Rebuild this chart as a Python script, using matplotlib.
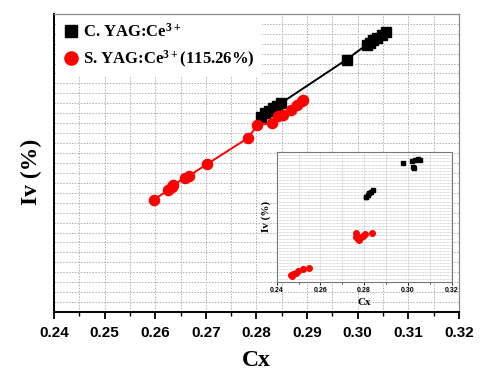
import matplotlib
matplotlib.use("Agg")
import matplotlib.pyplot as plt
from matplotlib.ticker import MultipleLocator

plt.rcParams["mathtext.fontset"] = "custom"
plt.rcParams["mathtext.rm"] = "Liberation Serif:bold"
plt.rcParams["mathtext.default"] = "rm"

# main panel data (Cx, Iv in arbitrary grid units)
c_cx = [0.2810, 0.2817, 0.2824, 0.2832, 0.2840, 0.2848, 0.2978,
        0.3018, 0.3025, 0.3031, 0.3038, 0.3048, 0.3057]
c_iv = [19.6, 20.0, 20.2, 20.5, 20.7, 21.0, 25.4,
        26.9, 27.1, 27.4, 27.6, 27.9, 28.2]
s_cx = [0.2598, 0.2626, 0.2633, 0.2636, 0.2659, 0.2667, 0.2703, 0.2783,
        0.2802, 0.2830, 0.2843, 0.2852, 0.2868, 0.2880, 0.2890, 0.2893]
s_iv = [11.3, 12.3, 12.6, 12.8, 13.5, 13.7, 14.9, 17.5,
        18.8, 19.0, 19.7, 19.8, 20.3, 20.8, 21.2, 21.3]

# inset data
ic_cx = [0.2976, 0.3017, 0.3032, 0.3045, 0.3057, 0.3025, 0.3027,
         0.2807, 0.2816, 0.2822, 0.2830, 0.2842, 0.2810]
ic_iv = [38.4, 39.3, 39.5, 39.8, 39.5, 37.3, 36.9,
         27.4, 28.1, 28.7, 29.2, 29.8, 27.6]
is_cx = [0.2763, 0.2766, 0.2773, 0.2784, 0.2796, 0.2804, 0.2837, 0.2762, 0.2776,
         0.2466, 0.2476, 0.2487, 0.2499, 0.2519, 0.2549, 0.2470]
is_iv = [15.7, 14.6, 13.9, 14.6, 14.9, 15.4, 15.9, 14.4, 13.5,
         2.2, 2.5, 2.9, 3.4, 4.0, 4.4, 1.9]

xticks = [0.24, 0.25, 0.26, 0.27, 0.28, 0.29, 0.30, 0.31, 0.32]
xticklabels = ["0.24", "0.25", "0.26", "0.27", "0.28", "0.29", "0.30", "0.31", "0.32"]
inset_ticks = [0.24, 0.26, 0.28, 0.30, 0.32]
inset_ticklabels = ["0.24", "0.26", "0.28", "0.30", "0.32"]

serif = "Liberation Serif"
sans = "Liberation Sans"

fig = plt.figure(figsize=(4.82, 3.75), dpi=100)
ax = fig.add_axes([0.112, 0.168, 0.840, 0.795])

ax.plot(c_cx, c_iv, "-", color="black", lw=1.4, marker="s", ms=6.8,
        label="C. YAG:Ce$^{3+}$", zorder=3)
ax.plot(s_cx, s_iv, "-", color="red", lw=1.4, marker="o", ms=7.3,
        label="S. YAG:Ce$^{3+}$(115.26%)", zorder=3)

ax.set_xlim(0.24, 0.32)
ax.set_ylim(0, 30)
ax.set_xticks(xticks)
ax.set_xticklabels(xticklabels, fontfamily=sans, fontweight="bold", fontsize=11)
ax.xaxis.set_minor_locator(MultipleLocator(0.005))
ax.yaxis.set_major_locator(MultipleLocator(1))
ax.tick_params(axis="x", which="major", direction="out", length=5, width=1.3, pad=5)
ax.tick_params(axis="x", which="minor", direction="out", length=3, width=1.0)
ax.tick_params(axis="y", which="both", left=False, labelleft=False)
ax.grid(True, which="both", axis="x", ls=(0, (1.5, 1.5)), color="#b0b0b0", lw=0.7)
ax.grid(True, which="major", axis="y", ls=(0, (1.5, 1.5)), color="#b0b0b0", lw=0.7)
ax.set_axisbelow(True)
for side in ["left", "bottom"]:
    ax.spines[side].set_linewidth(1.4)
for side in ["top", "right"]:
    ax.spines[side].set_color("#888888")
    ax.spines[side].set_linewidth(0.9)

ax.set_xlabel("Cx", fontfamily=serif, fontweight="bold", fontsize=17, labelpad=7)
ax.set_ylabel("Iv (%)", fontfamily=serif, fontweight="bold", fontsize=17)
ax.yaxis.set_label_coords(-0.03, 0.47)

leg = ax.legend(loc="upper left", frameon=True, fancybox=False, edgecolor="none",
                facecolor="white", framealpha=1, borderaxespad=0.15,
                handletextpad=0.2, handlelength=1.0, labelspacing=0.45,
                markerscale=1.3,
                prop={"family": serif, "weight": "bold", "size": 12})
for h in leg.legend_handles:
    h.set_linestyle("none")

# inset
ins = fig.add_axes([0.574, 0.249, 0.363, 0.345])
ins.plot(ic_cx, ic_iv, "s", color="black", ms=3.3, ls="none")
ins.plot(is_cx, is_iv, "o", color="red", ms=4, ls="none")
ins.set_xlim(0.24, 0.32)
ins.set_ylim(0, 42)
ins.set_xticks(inset_ticks)
ins.set_xticklabels(inset_ticklabels, fontfamily=sans, fontweight="bold", fontsize=5)
ins.xaxis.set_minor_locator(MultipleLocator(0.01))
ins.yaxis.set_major_locator(MultipleLocator(1))
ins.tick_params(axis="x", which="major", direction="out", length=2, width=0.6, pad=2)
ins.tick_params(axis="x", which="minor", direction="out", length=1.2, width=0.5)
ins.tick_params(axis="y", which="both", left=False, labelleft=False)
ins.grid(True, which="both", axis="x", ls=(0, (1, 1)), color="#b8b8b8", lw=0.5)
ins.grid(True, which="major", axis="y", ls=(0, (1, 1)), color="#b8b8b8", lw=0.5)
ins.set_axisbelow(True)
for side in ins.spines:
    ins.spines[side].set_color("#777777")
    ins.spines[side].set_linewidth(0.8)
ins.set_xlabel("Cx", fontfamily=serif, fontweight="bold", fontsize=8, labelpad=3)
ins.set_ylabel("Iv (%)", fontfamily=serif, fontweight="bold", fontsize=8, labelpad=4)

fig.savefig("out.png", dpi=100)
